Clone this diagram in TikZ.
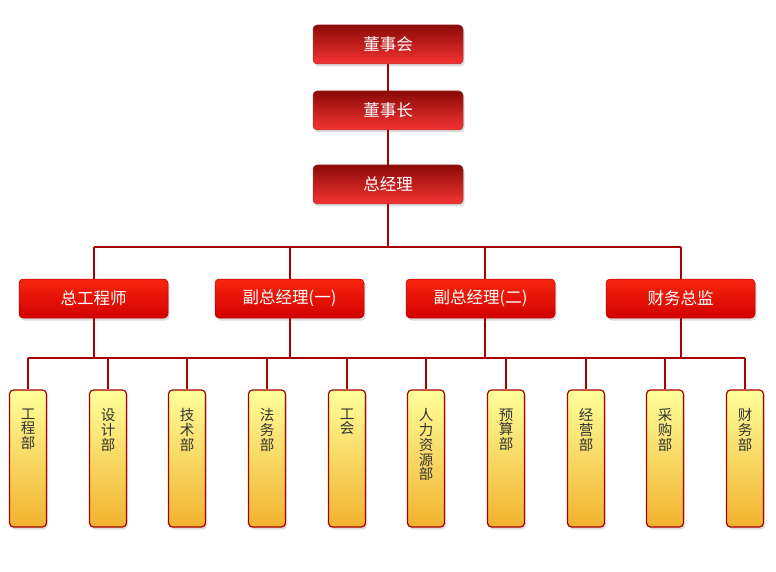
\documentclass[tikz,border=0pt]{standalone}
\usepackage{fontspec}
\newfontfamily\cjk{Noto Sans CJK SC}
\usetikzlibrary{shadows}
\definecolor{linered}{HTML}{A80000}
\definecolor{boardtop}{HTML}{8A0A06}
\definecolor{boardbot}{HTML}{F53434}
\definecolor{vptop}{HTML}{F8260E}
\definecolor{vpbot}{HTML}{D20000}
\definecolor{depttop}{HTML}{FFFF9A}
\definecolor{deptbot}{HTML}{F1B22E}
\definecolor{deptink}{HTML}{333333}
\tikzset{
  link/.style={draw=linered, line width=2pt},
  boxshadow/.style={drop shadow={shadow xshift=1.5pt, shadow yshift=-2.5pt, opacity=.22, fill=black!60}},
  boardbox/.style={rounded corners=4pt, minimum width=150pt, minimum height=39pt, top color=boardtop, bottom color=boardbot, draw=boardtop!80!white, line width=.5pt, text=white, font=\cjk\fontsize{16.5}{18}\selectfont, boxshadow},
  vpbox/.style={rounded corners=4pt, minimum width=149pt, minimum height=39pt, top color=vptop, bottom color=vpbot, draw=vpbot!85!black, line width=.5pt, text=white, font=\cjk\fontsize{16.5}{18}\selectfont, boxshadow},
  deptbox/.style={rounded corners=4pt, minimum width=37pt, minimum height=137pt, top color=depttop, bottom color=deptbot, draw=linered, line width=1.2pt, boxshadow},
  deptname/.style={anchor=north, align=center, inner sep=0pt, text=deptink, font=\cjk\fontsize{14.5}{14.8}\selectfont}
}
\begin{document}
\begin{tikzpicture}[x=1pt, y=-1pt]
\useasboundingbox (0,0) rectangle (776,572);
\node[boardbox] (dsh) at (388,44.5) {董事会};
\node[boardbox] (dsz) at (388,110.5) {董事长};
\node[boardbox] (zjl) at (388,184.5) {总经理};
\node[vpbox] (zgcs) at (93.5,298.5) {总工程师};
\node[vpbox] (fz1) at (289.5,298.5) {副总经理(一)};
\node[vpbox] (fz2) at (480.5,298.5) {副总经理(二)};
\node[vpbox] (cwzj) at (680.5,298.5) {财务总监};
\coordinate (busA) at (94,247);
\coordinate (busAend) at (681,247);
\coordinate (busB) at (28,358);
\coordinate (busBend) at (745,358);
\draw[link] (dsh) -- (dsz);
\draw[link] (dsz) -- (zjl);
\draw[link] (zjl.south) -- (zjl.south |- busA);
\draw[link] (busA) -- (busAend);
\draw[link] (zgcs.north) -- (zgcs.north |- busA);
\draw[link] (fz1.north) -- (fz1.north |- busA);
\draw[link] ([xshift=4.5pt]fz2.north) -- ([xshift=4.5pt]fz2.north |- busA);
\draw[link] (cwzj.north) -- (cwzj.north |- busA);
\draw[link] (busB) -- (busBend);
\draw[link] (zgcs.south) -- (zgcs.south |- busB);
\draw[link] (fz1.south) -- (fz1.south |- busB);
\draw[link] ([xshift=4.5pt]fz2.south) -- ([xshift=4.5pt]fz2.south |- busB);
\draw[link] (cwzj.south) -- (cwzj.south |- busB);
\foreach \n/\x/\t in {gcb/28/{工\\程\\部}, sjb/108/{设\\计\\部}, jsb/187/{技\\术\\部}, fwb/267/{法\\务\\部}, gh/347/{工\\会}, rlzyb/426/{人\\力\\资\\源\\部}, ysb/506/{预\\算\\部}, jyb/586/{经\\营\\部}, cgb/665/{采\\购\\部}, cwb/745/{财\\务\\部}}{
  \node[deptbox] (\n) at (\x,458.5) {};
  \node[deptname] (\n-t) at ([yshift=-19pt]\n.north) {\t};
  \draw[link] (\n.north) -- (\n.north |- busB);
}
\end{tikzpicture}
\end{document}
